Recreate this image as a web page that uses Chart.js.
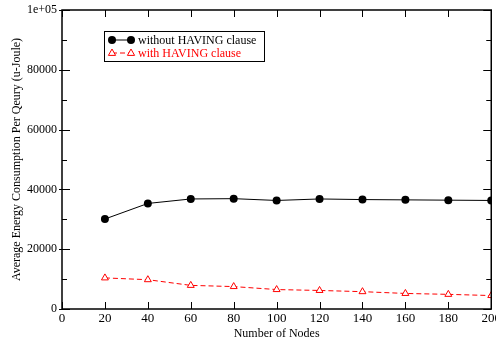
<!DOCTYPE html>
<html><head><meta charset="utf-8">
<script src="https://cdn.jsdelivr.net/npm/chart.js@4/dist/chart.umd.min.js"></script>
<style>html,body{margin:0;padding:0;background:#fff;overflow:hidden;width:496px;height:341px}
#wrap{width:503px;height:341px;position:relative}</style>
</head><body><div id="wrap"><canvas id="c" width="503" height="341"></canvas></div>
<script>
const nodes = [20, 40, 60, 80, 100, 120, 140, 160, 180, 200];
const withoutHaving = [30100, 35300, 36800, 36900, 36300, 36800, 36600, 36500, 36400, 36300];
const withHaving = [10400, 9800, 7900, 7500, 6500, 6200, 5800, 5200, 4900, 4500];
const xTicks = [0, 20, 40, 60, 80, 100, 120, 140, 160, 180, 200];
const yTicks = [0, 20000, 40000, 60000, 80000, 100000];
const seriesNames = ['without HAVING clause', 'with HAVING clause'];

const FONT = '"Liberation Serif", "Times New Roman", serif';

const frame = {
  id: 'frame',
  afterDraw(chart) {
    const {ctx, chartArea: a, scales: {x, y}} = chart;
    ctx.save();
    ctx.strokeStyle = '#000';
    ctx.lineWidth = 1.5;
    ctx.strokeRect(a.left, a.top, a.right - a.left, a.bottom - a.top);
    ctx.lineWidth = 1;
    for (const v of xTicks) {
      const px = Math.round(x.getPixelForValue(v)) + 0.5;
      ctx.beginPath();
      ctx.moveTo(px, a.bottom); ctx.lineTo(px, a.bottom - 7);
      ctx.moveTo(px, a.top); ctx.lineTo(px, a.top + 7);
      ctx.stroke();
    }
    for (let v = 0; v <= 100000; v += 10000) {
      const py = Math.round(y.getPixelForValue(v)) + 0.5;
      const major = (v % 20000 === 0);
      const len = major ? 8 : 5;
      ctx.beginPath();
      ctx.moveTo(a.left - (major ? 3 : 0), py); ctx.lineTo(a.left + len, py);
      ctx.moveTo(a.right, py); ctx.lineTo(a.right - len, py);
      ctx.stroke();
    }
    // legend
    const lx = 104, ly = 31, lw = 160, lh = 30;
    ctx.fillStyle = '#fff';
    ctx.fillRect(lx, ly, lw, lh);
    ctx.strokeRect(lx + 0.5, ly + 0.5, lw, lh);
    ctx.font = '12px ' + FONT;
    ctx.textBaseline = 'middle';
    const ds = chart.data.datasets;
    const rows = [ly + 9, ly + 22];
    ds.forEach((d, i) => {
      const yy = rows[i];
      const x1 = lx + 8, x2 = lx + 27;
      ctx.strokeStyle = d.borderColor;
      ctx.lineWidth = 1;
      ctx.setLineDash(d.borderDash || []);
      ctx.beginPath(); ctx.moveTo(x1, yy); ctx.lineTo(x2, yy); ctx.stroke();
      ctx.setLineDash([]);
      for (const px of [x1, x2]) {
        if (d.pointStyle === 'triangle') {
          const r = 4;
          ctx.fillStyle = '#fff';
          ctx.beginPath();
          ctx.moveTo(px, yy - r); ctx.lineTo(px + r * 0.9, yy + r * 0.6); ctx.lineTo(px - r * 0.9, yy + r * 0.6); ctx.closePath();
          ctx.fill(); ctx.stroke();
        } else {
          ctx.fillStyle = d.backgroundColor;
          ctx.beginPath(); ctx.arc(px, yy, 4, 0, Math.PI * 2); ctx.fill();
        }
      }
      ctx.fillStyle = d.borderColor;
      ctx.fillText(d.label, lx + 34, yy + 1);
    });
    ctx.restore();
  }
};

new Chart(document.getElementById('c'), {
  type: 'line',
  data: {
    datasets: [
      {
        label: seriesNames[0],
        data: nodes.map((n, i) => ({x: n, y: withoutHaving[i]})),
        borderColor: '#000', backgroundColor: '#000', borderWidth: 1,
        pointStyle: 'circle', pointRadius: 4, pointBorderWidth: 0
      },
      {
        label: seriesNames[1],
        data: nodes.map((n, i) => ({x: n, y: withHaving[i]})),
        borderColor: '#ff0000', backgroundColor: '#fff', borderWidth: 1,
        borderDash: [5, 3],
        pointStyle: 'triangle', pointRadius: 4, pointBorderWidth: 1
      }
    ]
  },
  options: {
    responsive: false, animation: false,
    layout: {padding: {top: 10, left: 0, right: 0, bottom: 0}},
    plugins: {legend: {display: false}, tooltip: {enabled: false}},
    scales: {
      x: {
        type: 'linear', min: 0, max: 200,
        afterBuildTicks(s) { s.ticks = xTicks.map(v => ({value: v})); },
        afterFit(s) { s.height = 32; },
        grid: {display: false, drawTicks: false},
        border: {display: false},
        ticks: {color: '#000', font: {family: FONT, size: 13}, padding: 2, maxRotation: 0, autoSkip: false},
        title: {display: true, text: 'Number of Nodes', color: '#000', font: {family: FONT, size: 12}, padding: {top: 0, bottom: 0}}
      },
      y: {
        type: 'linear', min: 0, max: 100000,
        afterBuildTicks(s) { s.ticks = yTicks.map(v => ({value: v})); },
        afterFit(s) { s.width = 62; s.paddingTop = 0; s.paddingBottom = 0; },
        grid: {display: false, drawTicks: false},
        border: {display: false},
        ticks: {color: '#000', font: {family: FONT, size: 12}, padding: 5,
          callback: v => v === 100000 ? '1e+05' : String(v)},
        title: {display: true, text: 'Average Energy Consumption Per Qeury (u-Joule)', color: '#000', font: {family: FONT, size: 12}, padding: {top: 10, bottom: 0}}
      }
    }
  },
  plugins: [frame]
});
</script>
</body></html>
